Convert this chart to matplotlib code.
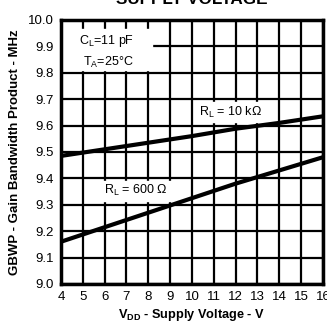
import matplotlib
matplotlib.use('Agg')
import matplotlib.pyplot as plt

# supply voltage (V) and gain bandwidth product (MHz)
vdd = [4, 6, 8, 10, 12, 14, 16]
gbwp_10k = [9.485, 9.51, 9.535, 9.56, 9.588, 9.61, 9.635]
gbwp_600 = [9.16, 9.215, 9.27, 9.325, 9.38, 9.43, 9.48]

x_ticks = list(range(4, 17))
y_ticks = [9.0, 9.1, 9.2, 9.3, 9.4, 9.5, 9.6, 9.7, 9.8, 9.9, 10.0]

plt.rcParams['font.family'] = ['Liberation Sans', 'DejaVu Sans']

fig = plt.figure(figsize=(3.27, 3.24), dpi=100)
ax = fig.add_axes([0.1865, 0.1235, 0.801, 0.815])

ax.set_xlim(4, 16)
ax.set_ylim(9.0, 10.0)
ax.set_xticks(x_ticks)
ax.set_yticks(y_ticks)
ax.set_yticklabels([f'{v:.1f}' for v in y_ticks])
ax.tick_params(length=0, labelsize=9.5, pad=5, colors='black')
ax.grid(True, color='black', linewidth=1.6)
ax.set_axisbelow(True)
for s in ax.spines.values():
    s.set_linewidth(2.5)
    s.set_zorder(5)

ax.plot(vdd, gbwp_10k, color='black', linewidth=3, zorder=4, solid_capstyle='butt')
ax.plot(vdd, gbwp_600, color='black', linewidth=3, zorder=4, solid_capstyle='butt')

# white boxes behind labels that hide the grid
ax.fill_between([4.05, 8.15], 9.81, 9.965, color='white', zorder=2)
ax.fill_between([10.2, 13.2], 9.615, 9.69, color='white', zorder=2)
ax.fill_between([5.85, 9.1], 9.315, 9.39, color='white', zorder=2)

ax.text(6.1, 9.92, r'C$_\mathregular{L}$=11 pF', ha='center', va='center', fontsize=9, zorder=6)
ax.text(6.15, 9.84, r'T$_\mathregular{A}$=25°C', ha='center', va='center', fontsize=9, zorder=6)
ax.text(11.75, 9.65, r'R$_\mathregular{L}$ = 10 kΩ', ha='center', va='center', fontsize=9, zorder=6)
ax.text(7.45, 9.355, r'R$_\mathregular{L}$ = 600 Ω', ha='center', va='center', fontsize=9, zorder=6)

ax.set_ylabel('GBWP - Gain Bandwidth Product - MHz', fontsize=9.5, fontweight='bold', labelpad=5)
ax.set_xlabel(r'V$_\mathregular{DD}$ - Supply Voltage - V', fontsize=9.2, fontweight='bold', labelpad=3)
fig.text(0.585, 1.0, 'SUPPLY VOLTAGE', ha='center', va='center', fontsize=12.3, fontweight='bold')

fig.savefig('out.png', dpi=100)
